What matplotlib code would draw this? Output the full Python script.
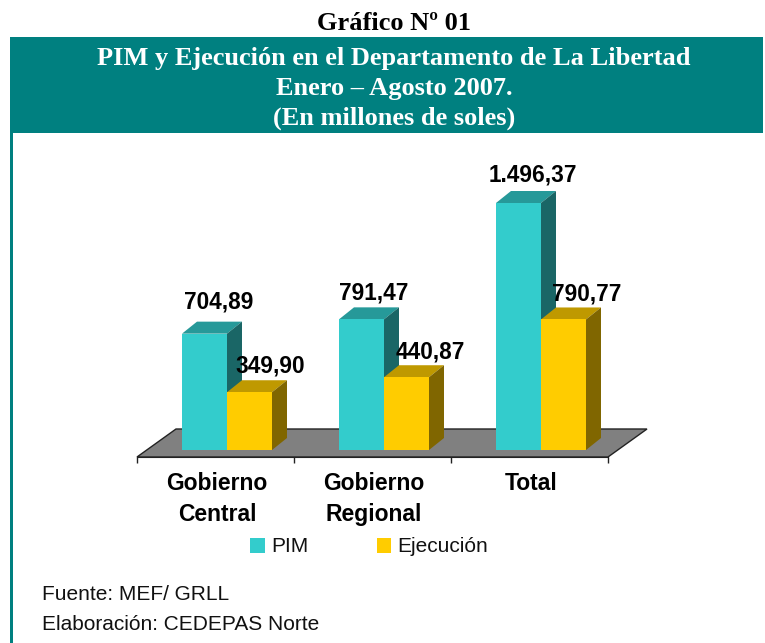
import matplotlib
matplotlib.use('Agg')
from matplotlib import pyplot as plt
from matplotlib.patches import Rectangle, Polygon

categories = ['Gobierno\nCentral', 'Gobierno\nRegional', 'Total']
pim = [704.89, 791.47, 1496.37]
ejecucion = [349.90, 440.87, 790.77]
pim_labels = ['704,89', '791,47', '1.496,37']
ejecucion_labels = ['349,90', '440,87', '790,77']

W, H = 765, 643
PX_PER_UNIT = 247 / 1496.37
PX_PER_CAT = 157
BAR_W = 45 / PX_PER_CAT
DX, DY = 15 / PX_PER_CAT, 12 / PX_PER_UNIT
SHIFT = 11.5 / PX_PER_CAT

plt.rcParams['font.family'] = ['Liberation Sans', 'DejaVu Sans']
fig = plt.figure(figsize=(W / 100, H / 100), dpi=100)

# page furniture, in pixel coordinates
bg = fig.add_axes([0, 0, 1, 1])
bg.set_xlim(0, W)
bg.set_ylim(H, 0)
bg.axis('off')
bg.add_patch(Rectangle((10, 37), 753, 96, color='#008080', lw=0))
bg.add_patch(Rectangle((10, 133), 3, 510, color='#008080', lw=0))
bg.text(394, 23, 'Gráfico Nº 01', family='Liberation Serif', weight='bold', size=19, ha='center', va='center')
for y, line in zip([58, 88, 118], ['PIM y Ejecución en el Departamento de La Libertad', 'Enero – Agosto 2007.', '(En millones de soles)']):
    bg.text(394, y, line, family='Liberation Serif', weight='bold', size=19, color='white', ha='center', va='center')
bg.add_patch(Polygon([(137, 457), (608, 457), (647, 429), (176, 429)], fc='#808080', ec='#222222', lw=1))
bg.text(42, 594, 'Fuente: MEF/ GRLL', size=15, va='center', color='#111111')
bg.text(42, 624, 'Elaboración: CEDEPAS Norte', size=15, va='center', color='#111111')

# chart axes: 0 sits 7 px above the floor's front edge
top_px, bottom_px, base_px = 140, 457, 450
ax = fig.add_axes([137 / W, 1 - bottom_px / H, 471 / W, (bottom_px - top_px) / H])
ax.patch.set_alpha(0)
ax.set_xlim(0, 3)
ax.set_ylim(-(bottom_px - base_px) / PX_PER_UNIT, (base_px - top_px) / PX_PER_UNIT)
for side in ['top', 'left', 'right']:
    ax.spines[side].set_visible(False)
ax.spines['bottom'].set_color('#222222')
ax.set_yticks([])
ax.set_xticks([0, 1, 2, 3])
ax.set_xticklabels([])
ax.tick_params(axis='x', which='major', length=4, width=1, color='#222222')
ax.set_xticks([0.51, 1.51, 2.51], categories, minor=True)
ax.tick_params(axis='x', which='minor', length=0, pad=11)
for t in ax.get_xticklabels(minor=True):
    t.set_fontweight('bold')
    t.set_fontsize(16.5)
    t.set_linespacing(1.42)


def draw_series(lefts, values, front, top, side, label):
    bars = ax.bar(lefts, values, BAR_W, align='edge', color=front, label=label, zorder=3)
    for x, v in zip(lefts, values):
        ax.fill([x, x + DX, x + BAR_W + DX, x + BAR_W], [v, v + DY, v + DY, v], color=top, lw=0, zorder=2)
        ax.fill([x + BAR_W, x + BAR_W + DX, x + BAR_W + DX, x + BAR_W], [v, v + DY, DY, 0], color=side, lw=0, zorder=2)
    return bars


pim_x = [i + 0.5 + SHIFT - BAR_W for i in range(3)]
ej_x = [i + 0.5 + SHIFT for i in range(3)]
h_pim = draw_series(pim_x, pim, '#33CCCC', '#269999', '#1A6666', 'PIM')
h_ej = draw_series(ej_x, ejecucion, '#FFCC00', '#BF9900', '#806600', 'Ejecución')

pim_off = [(14, 32), (12, 26), (14, 28)]
ej_off = [(21, 26), (24, 25), (23, 25)]
for x, v, s, o in zip(pim_x, pim, pim_labels, pim_off):
    ax.annotate(s, (x + BAR_W / 2, v), xytext=o, textcoords='offset pixels', ha='center', va='center',
                weight='bold', size=16.3, zorder=5)
for x, v, s, o in zip(ej_x, ejecucion, ejecucion_labels, ej_off):
    ax.annotate(s, (x + BAR_W / 2, v), xytext=o, textcoords='offset pixels', ha='center', va='center',
                weight='bold', size=16.3, zorder=5)

fig.legend(handles=[h_pim, h_ej], ncol=2, frameon=False, fontsize=15, loc='center left',
           bbox_to_anchor=(250 / W, 1 - 547 / H), handlelength=0.7, handleheight=0.7,
           handletextpad=0.3, columnspacing=3.3, borderaxespad=0, borderpad=0, labelcolor='#111111')

fig.savefig('out.png', dpi=100)
